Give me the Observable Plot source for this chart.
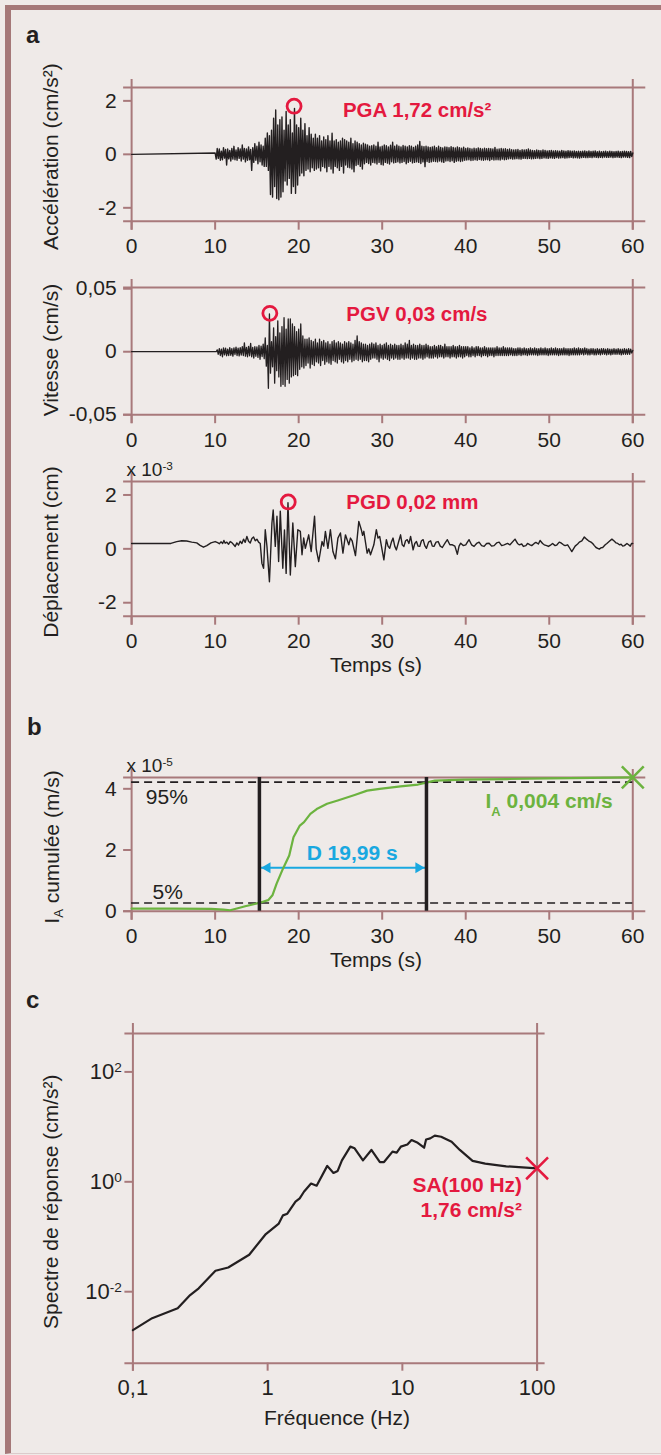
<!DOCTYPE html>
<html><head><meta charset="utf-8">
<script src="https://cdn.jsdelivr.net/npm/d3@7"></script>
<script src="https://cdn.jsdelivr.net/npm/@observablehq/plot@0.6"></script>
<style>
html,body{margin:0;padding:0;background:#efeae8;}
#page{position:relative;width:661px;height:1455px;overflow:hidden;background:#efeae8;}
.border{position:absolute;left:5px;top:5px;width:656px;height:1449px;border-top:5px solid #a57878;border-left:6px solid #a57878;border-bottom:1px solid #dccbcb;box-sizing:border-box;}
</style></head><body><div id="page"><div class="border"></div></div>
<script>
// ---------------- data ----------------
const timeDomain = [0, 60];
const timeTicks = [0, 10, 20, 30, 40, 50, 60];
const accDomain = [-2.5, 2.5];
const accTicks = [-2, 0, 2];
const velDomain = [-0.05, 0.051];
const velTicks = [-0.05, 0, 0.05];
const dispDomain = [-2.5, 2.5];
const dispTicks = [-2, 0, 2];
const ariasDomain = [0, 4.37];
const ariasTicks = [0, 2, 4];
const freqDomain = [0.1, 100];
const freqTicks = [0.1, 1, 10, 100];
const freqTickLabels = ["0,1", "1", "10", "100"];
const specDomain = [0.0005, 500];
const specTicks = [0.01, 1, 100];
const specTickLabels = ["10^{-2}", "10^{0}", "10^{2}"];

// acceleration (cm/s²), quiet until 10 s, then one value every 0.125 s
const accStart = 10, accStep = 0.125;
const accValues = [
 0.05,-0.18,0.22,-0.15,0.2,-0.22,0.12,-0.2,
 0.25,-0.14,0.18,-0.4,0.2,-0.17,0.15,-0.25,
 0.22,-0.18,0.3,-0.2,0.16,-0.22,0.25,-0.15,
 0.2,-0.25,0.35,-0.18,0.22,-0.28,0.2,-0.22,
 0.28,-0.2,0.18,-0.6,0.25,-0.3,0.4,-0.22,
 0.3,-0.35,0.45,-0.28,0.35,-0.4,0.3,-0.45,
 0.6,-0.45,0.8,-0.6,0.7,-1.5,0.9,-1.6,
 1.35,-1.2,1.66,-1.65,1.1,-1.7,1.3,-1.6,
 1.4,-1.4,0.9,-1.0,1.6,-1.15,1.1,-0.9,
 1.3,-1.46,0.8,-1.2,1.72,-1.46,1.1,-1.15,
 1.0,-0.8,1.35,-0.7,0.9,-0.8,1.15,-0.6,
 0.7,-0.55,1.0,-0.65,0.75,-0.5,0.6,-0.6,
 0.75,-0.55,0.6,-0.5,0.7,-0.62,0.5,-0.45,
 0.65,-0.5,0.55,-0.65,0.7,-0.45,0.5,-0.55,
 0.79,-0.7,0.5,-0.45,0.55,-0.5,0.45,-0.6,
 0.5,-0.45,0.6,-0.7,0.55,-0.4,0.5,-0.48,
 0.45,-0.5,0.6,-0.55,0.4,-0.65,0.5,-0.42,
 0.45,-0.38,0.4,-0.45,0.35,-0.55,0.42,-0.35,
 0.38,-0.3,0.35,-0.34,0.3,-0.4,0.32,-0.3,
 0.35,-0.32,0.3,-0.36,0.45,-0.3,0.28,-0.38,
 0.3,-0.4,0.35,-0.3,0.32,-0.33,0.28,-0.36,
 0.34,-0.28,0.45,-0.32,0.3,-0.3,0.35,-0.28,
 0.3,-0.32,0.28,-0.3,0.33,-0.27,0.3,-0.35,
 0.28,-0.3,0.32,-0.26,0.3,-0.32,0.26,-0.3,
 0.3,-0.28,0.35,-0.3,0.48,-0.34,0.3,-0.28,
 0.29,-0.46,0.3,-0.27,0.28,-0.3,0.26,-0.28,
 0.28,-0.26,0.3,-0.27,0.25,-0.28,0.3,-0.25,
 0.26,-0.28,0.24,-0.3,0.28,-0.25,0.27,-0.24,
 0.25,-0.27,0.29,-0.24,0.26,-0.3,0.24,-0.26,
 0.28,-0.24,0.25,-0.27,0.23,-0.25,0.27,-0.22,
 0.22,-0.21,0.24,-0.2,0.22,-0.23,0.2,-0.22,
 0.23,-0.2,0.21,-0.22,0.24,-0.19,0.22,-0.21,
 0.2,-0.22,0.23,-0.2,0.21,-0.2,0.22,-0.23,
 0.21,-0.19,0.2,-0.21,0.26,-0.2,0.19,-0.2,
 0.2,-0.21,0.22,-0.18,0.2,-0.2,0.21,-0.19,
 0.18,-0.17,0.2,-0.16,0.17,-0.18,0.16,-0.17,
 0.17,-0.16,0.18,-0.17,0.15,-0.18,0.17,-0.15,
 0.16,-0.15,0.17,-0.16,0.2,-0.15,0.16,-0.17,
 0.15,-0.16,0.14,-0.15,0.16,-0.14,0.15,-0.16,
 0.14,-0.15,0.16,-0.13,0.15,-0.14,0.13,-0.15,
 0.14,-0.13,0.15,-0.14,0.13,-0.15,0.14,-0.12,
 0.13,-0.14,0.12,-0.13,0.15,-0.12,0.13,-0.14,
 0.12,-0.13,0.14,-0.12,0.13,-0.11,0.12,-0.13,
 0.13,-0.12,0.11,-0.13,0.12,-0.14,0.11,-0.12,
 0.12,-0.11,0.13,-0.12,0.11,-0.12,0.13,-0.11,
 0.11,-0.12,0.12,-0.1,0.13,-0.11,0.1,-0.12,
 0.12,-0.11,0.1,-0.12,0.11,-0.1,0.12,-0.11,
 0.1,-0.11,0.12,-0.1,0.11,-0.12,0.1,-0.11,
 0.11,-0.1,0.12,-0.11,0.1,-0.12,0.11,-0.1,
 0.12,-0.1,0.11,-0.11,0.1,-0.12,0.11,-0.08,
 0.05
];

// velocity (×10⁻³ cm/s), one value every 0.125 s from 10 s
const velStart = 10, velStep = 0.125;
const velValues = [
 0,0,1.5,-2,2.5,-3,2,-4,
 3,-2.5,2.8,-3.2,2,-3,3.3,-2.8,
 2.5,-3.5,3,-2.2,3.6,-3,2.8,-3.3,
 3.2,-2.6,4,-3,7,-3.5,3.5,-4,
 4.2,-3.2,6.6,-4,3.5,-5,4,-3.6,
 3.8,-4.5,5,-6,4.5,-3.8,6,-5.5,
 11,-11.5,5,-29,30,-17,8,-12,
 19,-25,12,-15,24.5,-20,15,-27.4,
 20,-26,27,-27.4,18,-22,26,-25,
 26,-20,22,-19,20,-18,16,-19,
 18,-14,22,-12,12.5,-13,10,-11,
 10,-9,11,-13,9,-10,8,-11,
 10,-8,7,-9,10,-11,8,-7,
 9,-10,7,-8,8,-9,6,-10,
 8,-7,9,-8,7,-9,8,-6,
 7,-8,6,-9,8,-7,7,-8,
 8,-6,7,-8,6,-7,9,-6,
 12.6,-7,8,-6,7,-8,6,-7,
 6,-7,5,-8,6,-6,7,-5,
 6,-5,7,-6,5,-8,6,-5,
 5,-6,6,-5,7,-6,5,-7,
 6,-5,5,-6,6,-5,5,-6,
 5,-6,6,-5,5,-6,7,-5,
 6,-5,9,-6,5,-5,6,-6,
 5,-6,5,-5,6,-5,5,-6,
 5,-5,6,-4,5,-5,4,-5,
 4,-5,5,-4,4,-5,5,-4,
 5,-4,4,-5,6,-4,4,-4,
 4,-5,4,-4,5,-4,4,-5,
 4,-4,5,-4,4,-5,4,-4,
 4,-3,4,-4,3,-4,4,-3,
 3,-4,4,-3,4,-3,3,-4,
 3,-3,4,-3,3,-4,3,-3,
 3,-3,3,-4,3,-3,4,-3,
 3,-3,3,-3,4,-3,3,-3,
 3,-3,3,-2.5,3,-3,2.5,-3,
 2.5,-3,3,-2.5,3,-3,2.5,-2.5,
 3,-2.5,2.5,-3,2.5,-2.5,3,-2.5,
 2.5,-2.5,3,-2.5,2.5,-3,2.5,-2.5,
 3,-2.5,2.5,-2.5,3,-2.5,2.5,-3,
 2.5,-2.5,3,-2.5,2.5,-2.5,3,-2.5,
 2.5,-3,2.5,-2.5,2.5,-2.5,3,-2.5,
 2.5,-2.5,2.5,-3,2.5,-2.5,2.5,-2.5,
 3,-2.5,2.5,-2.5,3,-2.5,2.5,-2,
 2.5,-2.5,3,-2,2.5,-2.5,2,-2.5,
 2.5,-2,2.5,-2.5,2,-2.5,2.5,-2,
 2,-2.5,2.5,-2,2.5,-2,2,-2.5,
 2.5,-2,2,-2.5,2,-2,2.5,-2,
 2,-2,2.5,-2,2,-2.5,2,-2,
 2.5,-2,2,-2,2.5,-2,2,-1,
 1
];

// displacement (×10⁻³ cm)
const dispTimes = [0,4.7,5.4,6.0,6.6,7.2,7.8,8.2,8.6,9.0,9.5,10.0,10.3,10.5,10.7,10.9,11.05,11.2,11.4,11.6,11.8,12.0,12.2,12.4,12.6,12.8,13.0,13.2,13.4,13.6,13.8,14.0,14.2,14.4,14.6,14.8,15.0,15.2,15.4,15.6,15.8,16.0,16.2,16.5,16.8,16.95,17.2,17.4,17.6,17.8,18.1,18.3,18.5,18.72,19.0,19.3,19.6,19.9,20.2,20.4,20.6,20.8,21.2,21.5,21.9,22.1,22.4,22.8,23.0,23.2,23.5,23.8,24.1,24.4,24.7,25.0,25.3,25.6,26.0,26.2,26.4,26.8,27.2,27.5,27.65,27.8,28.2,28.4,28.6,29.0,29.3,29.5,29.7,30.2,30.5,30.7,30.9,31.1,31.3,31.5,31.7,32.0,32.2,32.4,32.6,32.8,33.0,33.2,33.4,33.7,33.9,34.1,34.3,34.5,34.7,34.9,35.1,35.3,35.55,35.8,36.0,36.2,36.45,36.7,36.95,37.2,37.5,37.8,38.1,38.4,38.7,39.0,39.2,39.4,39.7,40.0,40.2,40.4,40.7,41.0,41.3,41.6,41.9,42.2,42.5,42.8,43.1,43.4,43.7,44.0,44.3,44.6,45.0,45.3,45.9,46.2,46.4,46.7,46.9,47.2,47.4,47.7,47.9,48.2,48.4,48.7,48.9,49.2,49.4,49.7,49.9,50.2,50.4,50.7,50.9,51.2,51.4,51.7,51.9,52.2,52.4,52.7,52.9,53.1,53.4,53.6,53.9,54.2,54.5,54.7,55.0,55.2,55.4,55.6,55.8,56.0,56.2,56.4,56.7,56.9,57.2,57.5,57.8,58.0,58.2,58.4,58.6,58.8,59.0,59.3,59.5,59.7,59.85,60.0];
const dispValues = [0.2,0.2,0.27,0.3,0.29,0.25,0.22,0.13,0.06,0.12,0.22,0.27,0.23,0.19,0.26,0.2,0.31,0.21,0.25,0.17,0.27,0.23,0.16,0.09,0.22,0.14,0.28,0.2,0.36,0.24,0.46,0.28,0.22,0.38,0.44,0.3,0.36,0.25,0.2,-0.54,-0.72,0.71,0.1,-1.22,0.96,1.44,0.09,1.21,-0.47,1.4,-0.72,0.7,-0.91,1.71,-0.97,0.96,-0.66,0.71,0.65,-0.22,0.4,0.02,0.52,-0.1,1.21,0.0,-0.47,0.27,0.1,0.65,0.02,0.71,-0.1,-0.37,0.4,0.59,-0.16,0.52,0.15,0.4,0.3,-0.25,1.02,0.71,0.5,0.65,-0.16,0.0,-0.22,0.15,0.71,0.4,0.46,-0.41,0.34,0.1,0.02,0.25,0.4,0.1,-0.04,0.3,0.52,0.15,0.09,0.3,0.34,0.2,0.46,-0.04,0.2,0.27,0.1,0.09,0.3,0.34,0.12,0.02,0.25,0.3,0.1,0.09,0.25,0.27,0.1,0.05,0.2,0.34,0.15,0.15,0.1,-0.2,0.1,0.21,0.12,0.15,0.25,0.34,0.15,0.09,0.2,0.25,0.12,0.09,0.2,0.21,0.1,0.12,0.22,0.25,0.12,0.15,0.2,0.15,0.36,0.2,0.15,0.18,0.09,0.12,0.2,0.15,0.12,0.2,0.24,0.18,0.31,0.2,0.15,0.12,0.09,0.15,0.2,0.12,0.14,0.25,0.22,0.15,0.12,0.15,0.05,-0.1,0.0,0.1,0.18,0.25,0.3,0.44,0.35,0.3,0.25,0.2,0.12,0.05,0.02,-0.01,0.04,0.05,0.15,0.2,0.28,0.36,0.28,0.22,0.2,0.15,0.17,0.1,0.12,0.2,0.15,0.1,0.2,0.2];

// cumulative Arias intensity (×10⁻⁵ m/s)
const ariasTimes = [0,5,9.5,11,11.8,12.6,13.6,14.5,15.25,16.35,16.86,17.36,18.12,18.87,19.38,20.14,20.64,21.4,22.16,23.4,24.68,26.7,28.2,29.7,32.2,34.3,35.4,36.3,39.8,45,49.9,55,60];
const ariasValues = [0.087,0.085,0.076,0.05,0.03,0.087,0.16,0.22,0.27,0.36,0.52,0.9,1.39,1.82,2.42,2.8,2.91,3.18,3.34,3.51,3.62,3.8,3.94,4.0,4.08,4.14,4.21,4.27,4.3,4.32,4.34,4.355,4.375];
const ariasLevels = [0.27, 4.22];       // 5 % and 95 %
const durationBounds = [15.3, 35.3];     // D = 19,99 s

// response spectrum
const specFreq = [0.1,0.139,0.215,0.266,0.308,0.41,0.51,0.73,0.97,1.21,1.3,1.4,1.61,1.73,1.86,2.1,2.31,2.77,3.08,3.31,3.56,4.11,4.42,5.1,5.89,6.81,7.31,8.45,9.08,9.75,10.9,11.7,13.0,14.5,15.0,16.1,17.4,19.4,23.2,26.7,33.2,41.2,59.0,100];
const specValues = [0.002,0.0033,0.005,0.0087,0.0115,0.024,0.0275,0.047,0.112,0.174,0.245,0.263,0.437,0.5,0.66,0.93,0.85,1.95,1.45,1.58,2.45,4.37,4.07,2.45,3.8,2.29,2.29,3.55,3.39,4.37,4.79,5.75,5.13,4.17,5.89,6.17,6.92,6.61,5.37,3.8,2.4,2.14,1.91,1.76];

// peak markers and annotations
const pga = {t: 19.45, v: 1.8, lt: 25.3, lv: 1.66, label: "PGA 1,72 cm/s²"};
const pgv = {t: 16.55, v: 0.0305, lt: 25.7, lv: 0.0299, label: "PGV 0,03 cm/s"};
const pgd = {t: 18.75, v: 1.74, lt: 25.7, lv: 1.74, label: "PGD 0,02 mm"};
const ariasEnd = {t: 60, v: 4.375, lt: 57.6, lv: 3.6, label: "I_{A} 0,004 cm/s"};
const durationLabel = {t: 26.4, v: 1.89, y: 1.42, label: "D 19,99 s"};
const pctLabels = [{t: 1.7, v: 3.74, label: "95%"}, {t: 2.5, v: 0.63, label: "5%"}];
const sa = {f: 100, v: 1.76, lf: 77.3, lines: [{v: 0.87, label: "SA(100 Hz)"}, {v: 0.305, label: "1,76 cm/s²"}]};

// ---------------- drawing ----------------
const page = document.getElementById("page");
const FONT = '"Liberation Sans", Arial, Helvetica, sans-serif';
const FRAME = "#a8797b", INK = "#231f20", RED = "#e4193f", GREEN = "#6cb33f", CYAN = "#19a8e0";
const comma = d => String(d).replace(".", ",");

function basePlot({top, frameH, mt = 30, mb = 50, ml = 131.1, mr = 28.7, x, y, marks}) {
  const svg = Plot.plot({
    width: 661, height: frameH + mt + mb,
    marginTop: mt, marginBottom: mb, marginLeft: ml, marginRight: mr,
    style: {background: "transparent", fontFamily: FONT, fontSize: "21px", color: INK, overflow: "visible"},
    x, y, marks
  });
  svg.style.position = "absolute";
  svg.style.left = "0px";
  svg.style.top = (top - mt) + "px";
  page.appendChild(svg);
  return svg;
}

function timeFrame(yDomain, yTicks) {
  return [
    Plot.ruleY(yDomain, {stroke: FRAME, strokeWidth: 2, insetLeft: -8, insetRight: -13}),
    Plot.ruleX(timeDomain, {stroke: FRAME, strokeWidth: 2, insetTop: -8, insetBottom: -9}),
    Plot.axisX(timeTicks, {tickSize: 9, tickPadding: 8, stroke: FRAME, strokeWidth: 2, fill: INK, fontSize: 21, label: null, tickFormat: d => String(d)}),
    Plot.axisY(yTicks, {tickSize: 8, tickPadding: 7, stroke: FRAME, strokeWidth: 2, fill: INK, fontSize: 21, label: null, tickFormat: comma})
  ];
}

const bold = {fontWeight: "bold", fontSize: 21, fontFamily: FONT, lineAnchor: "middle"};

function peakMarks(p) {
  return [
    Plot.dot([p], {x: "t", y: "v", r: 7, stroke: RED, strokeWidth: 2.8, fill: "none"}),
    Plot.text([p], {x: "lt", y: "lv", text: "label", textAnchor: "start", fill: RED, ...bold, fontSize: 20.5})
  ];
}

// a — acceleration
const accData = [{t: 0, v: 0}, ...accValues.map((v, i) => ({t: accStart + i * accStep, v}))];
basePlot({top: 87.3, frameH: 133.7, x: {domain: timeDomain}, y: {domain: accDomain}, marks: [
  ...timeFrame(accDomain, accTicks),
  Plot.line(accData, {x: "t", y: "v", stroke: INK, strokeWidth: 1.4}),
  ...peakMarks(pga)
]});

// a — velocity
const velData = [{t: 0, v: 0}, ...velValues.map((v, i) => ({t: velStart + i * velStep, v: v / 1000}))];
basePlot({top: 286.5, frameH: 127.2, x: {domain: timeDomain}, y: {domain: velDomain}, marks: [
  ...timeFrame(velDomain, velTicks),
  Plot.line(velData, {x: "t", y: "v", stroke: INK, strokeWidth: 1.3}),
  ...peakMarks(pgv)
]});

// a — displacement
const dispData = dispTimes.map((t, i) => ({t, v: dispValues[i]}));
basePlot({top: 481, frameH: 134.7, x: {domain: timeDomain}, y: {domain: dispDomain}, marks: [
  ...timeFrame(dispDomain, dispTicks),
  Plot.line(dispData, {x: "t", y: "v", stroke: INK, strokeWidth: 1.4}),
  ...peakMarks(pgd)
]});

// b — Arias intensity
const ariasData = ariasTimes.map((t, i) => ({t, v: ariasValues[i]}));
const arrow = {x1: durationBounds[0], x2: durationBounds[1], y: durationLabel.y};
basePlot({top: 777.3, frameH: 133.7, x: {domain: timeDomain}, y: {domain: ariasDomain}, marks: [
  ...timeFrame(ariasDomain, ariasTicks),
  Plot.ruleY(ariasLevels, {stroke: INK, strokeWidth: 1.6, strokeDasharray: "8,5"}),
  Plot.link([arrow], {x1: "x1", x2: "x2", y1: "y", y2: "y", stroke: CYAN, strokeWidth: 2}),
  Plot.dot([arrow], {x: "x1", y: "y", symbol: "triangle", r: 4, fill: CYAN, rotate: -90, dx: 8}),
  Plot.dot([arrow], {x: "x2", y: "y", symbol: "triangle", r: 4, fill: CYAN, rotate: 90, dx: -8}),
  Plot.line(ariasData, {x: "t", y: "v", stroke: GREEN, strokeWidth: 2.2}),
  Plot.ruleX(durationBounds, {stroke: INK, strokeWidth: 3.5}),
  Plot.text(pctLabels, {x: "t", y: "v", text: "label", textAnchor: "start", fill: INK, fontSize: 21, lineAnchor: "middle"}),
  Plot.text([durationLabel], {x: "t", y: "v", text: "label", textAnchor: "middle", fill: CYAN, ...bold}),
  Plot.dot([ariasEnd], {x: "t", y: "v", symbol: "times", r: 10, stroke: GREEN, strokeWidth: 2.5}),
  Plot.text([ariasEnd], {x: "lt", y: "lv", text: "label", textAnchor: "end", fill: GREEN, ...bold})
]});

// c — response spectrum
const specData = specFreq.map((f, i) => ({f, v: specValues[i]}));
basePlot({top: 1033.3, frameH: 329.7, ml: 132.4, mr: 124.4,
  x: {type: "log", domain: freqDomain}, y: {type: "log", domain: specDomain}, marks: [
  Plot.ruleY(specDomain, {stroke: FRAME, strokeWidth: 2, insetLeft: -8, insetRight: -8}),
  Plot.ruleX(freqDomain, {stroke: FRAME, strokeWidth: 2, insetTop: -10, insetBottom: -8}),
  Plot.axisX(freqTicks, {tickSize: 8, tickPadding: 8, stroke: FRAME, strokeWidth: 2, fill: INK, fontSize: 22, label: null, tickFormat: d => freqTickLabels[freqTicks.indexOf(d)]}),
  Plot.axisY(specTicks, {tickSize: 8, tickPadding: 3, stroke: FRAME, strokeWidth: 2, fill: INK, fontSize: 22, label: null, tickFormat: d => specTickLabels[specTicks.indexOf(d)]}),
  Plot.line(specData, {x: "f", y: "v", stroke: INK, strokeWidth: 2.2}),
  Plot.dot([sa], {x: "f", y: "v", symbol: "times", r: 10, stroke: RED, strokeWidth: 2.5}),
  Plot.text(sa.lines, {x: () => sa.lf, y: "v", text: "label", textAnchor: "end", fill: RED, ...bold})
]});

// overlay text: panel letters, axis titles, multipliers
const ov = d3.create("svg").attr("width", 661).attr("height", 1455)
  .style("position", "absolute").style("left", "0px").style("top", "0px").style("overflow", "visible")
  .attr("font-family", FONT).attr("fill", INK);
[["a", 26, 43.3], ["b", 27, 735], ["c", 26, 1008.3]].forEach(([s, x, y]) =>
  ov.append("text").attr("x", x).attr("y", y).attr("font-size", 24).attr("font-weight", "bold").text(s));
[["Accélération (cm/s²)", 156.6], ["Vitesse (cm/s)", 350], ["Déplacement (cm)", 552],
 ["I_{A} cumulée (m/s)", 847], ["Spectre de réponse (cm/s²)", 1201.7]].forEach(([s, y]) =>
  ov.append("text").attr("transform", `translate(50.6,${y}) rotate(-90)`).attr("text-anchor", "middle")
    .attr("dominant-baseline", "central").attr("font-size", 21).text(s));
[["Temps (s)", 376, 671.7], ["Temps (s)", 376, 966.7], ["Fréquence (Hz)", 337, 1425]].forEach(([s, x, y]) =>
  ov.append("text").attr("x", x).attr("y", y).attr("text-anchor", "middle").attr("font-size", 21).text(s));
[["x 10^{-3}", 126.5, 476], ["x 10^{-5}", 126.5, 772]].forEach(([s, x, y]) =>
  ov.append("text").attr("x", x).attr("y", y).attr("font-size", 19).text(s));
page.appendChild(ov.node());

// rich text: ^{..} superscript, _{..} subscript
function rich(el) {
  const s = el.textContent;
  if (!/[\^_]\{/.test(s) || el.querySelector("tspan")) return;
  const sel = d3.select(el);
  el.textContent = "";
  const re = /([\^_])\{([^}]*)\}/g;
  let last = 0, m;
  while ((m = re.exec(s))) {
    if (m.index > last) sel.append("tspan").text(s.slice(last, m.index));
    sel.append("tspan").attr("baseline-shift", m[1] === "^" ? "super" : "sub").attr("font-size", "62%").text(m[2]);
    last = re.lastIndex;
  }
  if (last < s.length) sel.append("tspan").text(s.slice(last));
}
document.querySelectorAll("#page text").forEach(rich);
</script></body></html>
